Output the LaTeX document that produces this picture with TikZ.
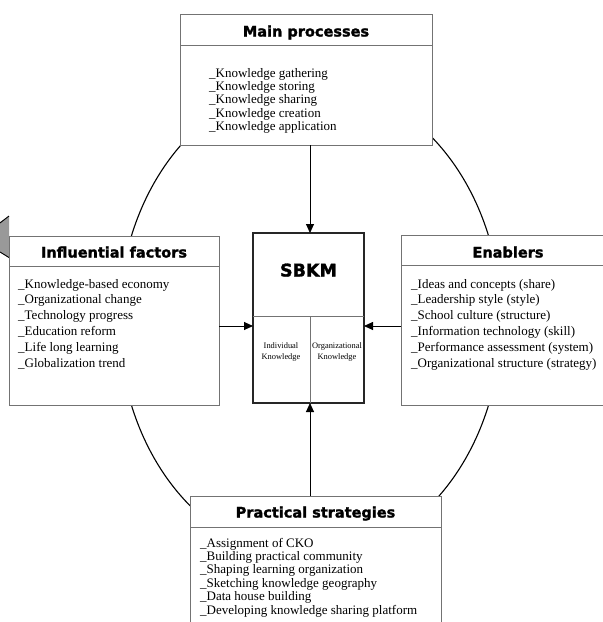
\documentclass[tikz,border=0pt]{standalone}
\usepackage{fontspec}
\setmainfont{Liberation Serif}
\newfontfamily\titlefont{DejaVu Sans}[BoldFeatures={FakeBold=1.6}]
\usetikzlibrary{arrows.meta}
\begin{document}
\begin{tikzpicture}[x=1pt,y=-1pt,
 box/.style={draw=black!55,line width=0.8pt,fill=white,inner sep=0pt,outer sep=0pt,anchor=north west},
 corebox/.style={draw=black!85,line width=1.2pt,fill=white,inner sep=0pt,outer sep=0pt,anchor=north west},
 sepline/.style={draw=black!55,line width=0.8pt},
 ttl/.style={font=\titlefont\bfseries\fontsize{14.5}{16}\selectfont,inner sep=0pt,anchor=base},
 item/.style={font=\fontsize{13}{13.4}\selectfont,inner sep=0pt,anchor=base west},
 small/.style={font=\fontsize{8.4}{9}\selectfont,inner sep=0pt,anchor=base},
 arr/.style={-{Triangle[length=9pt,width=8pt]},line width=0.9pt},
 ring/.style={line width=1.1pt}]
\useasboundingbox (0,0) rectangle (603,622);
% gray fragment at left edge
\fill[black!40] (0,222) -- (9,216) -- (9,258) -- (0,252) -- cycle;
\draw[line width=0.9pt] (0,223) -- (9,216);
\draw[line width=0.9pt] (0,252) -- (9,257.5);
% ring
\draw[ring] (310,320.5) ellipse [x radius=191pt, y radius=238pt];
% boxes
\node[box,minimum width=252pt,minimum height=131pt] (mp) at (180,14) {};
\node[box,minimum width=210pt,minimum height=169pt] (lf) at (9,236) {};
\node[box,minimum width=214pt,minimum height=170pt] (en) at (401,235) {};
\node[box,minimum width=251pt,minimum height=140pt] (ps) at (190,496) {};
\node[corebox,minimum width=111pt,minimum height=170pt] (sb) at (253,233) {};
% separators
\draw[sepline] (mp.north west) ++(0,31) -- ++(252,0);
\draw[sepline] (lf.north west) ++(0,30) -- ++(210,0);
\draw[sepline] (en.north west) ++(0,30) -- ++(214,0);
\draw[sepline] (ps.north west) ++(0,31) -- ++(251,0);
\draw[sepline] (sb.north west) ++(0,83) -- ++(111,0);
\draw[sepline] (sb.south) ++(1.5,0) -- ++(0,-87);
% titles
\node[ttl] (mpt) at (306,36.5) {Main processes};
\node[ttl] (lft) at (114,257.5) {Influential factors};
\node[ttl] (ent) at (508,257.5) {Enablers};
\node[ttl] (pst) at (315.5,517.5) {Practical strategies};
\node[ttl,font=\titlefont\bfseries\fontsize{17.5}{19}\selectfont] (sbt) at (308.5,276.5) {SBKM};
% center labels
\node[small] (ik1) at (281,348) {Individual};
\node[small] (ik2) at (281,359) {Knowledge};
\node[small] (ok1) at (337,348) {Organizational};
\node[small] (ok2) at (337,359) {Knowledge};
% lists
\foreach \t [count=\i] in {\_Knowledge gathering,\_Knowledge storing,\_Knowledge sharing,\_Knowledge creation,\_Knowledge application}
  \node[item] (mp\i) at ({209},{77+13.4*(\i-1)}) {\t};
\foreach \t [count=\i] in {\_Knowledge-based economy,\_Organizational change,\_Technology progress,\_Education reform,\_Life long learning,\_Globalization trend}
  \node[item] (lf\i) at ({18},{288+15.8*(\i-1)}) {\t};
\foreach \t [count=\i] in {\_Ideas and concepts (share),\_Leadership style (style),\_School culture (structure),\_Information technology (skill),\_Performance assessment (system),\_Organizational structure (strategy)}
  \node[item] (en\i) at ({411},{288+15.8*(\i-1)}) {\t};
\foreach \t [count=\i] in {\_Assignment of CKO,\_Building practical community,\_Shaping learning organization,\_Sketching knowledge geography,\_Data house building,\_Developing knowledge sharing platform}
  \node[item] (ps\i) at ({200},{547+13.4*(\i-1)}) {\t};
% arrows
\coordinate (ax) at (310,0);
\coordinate (ay) at (0,326);
\draw[arr] (ax |- mp.south) -- (ax |- sb.north);
\draw[arr] (ax |- ps.north) -- (ax |- sb.south);
\draw[arr] (lf.east |- ay) -- (sb.west |- ay);
\draw[arr] (en.west |- ay) -- (sb.east |- ay);
\end{tikzpicture}
\end{document}
